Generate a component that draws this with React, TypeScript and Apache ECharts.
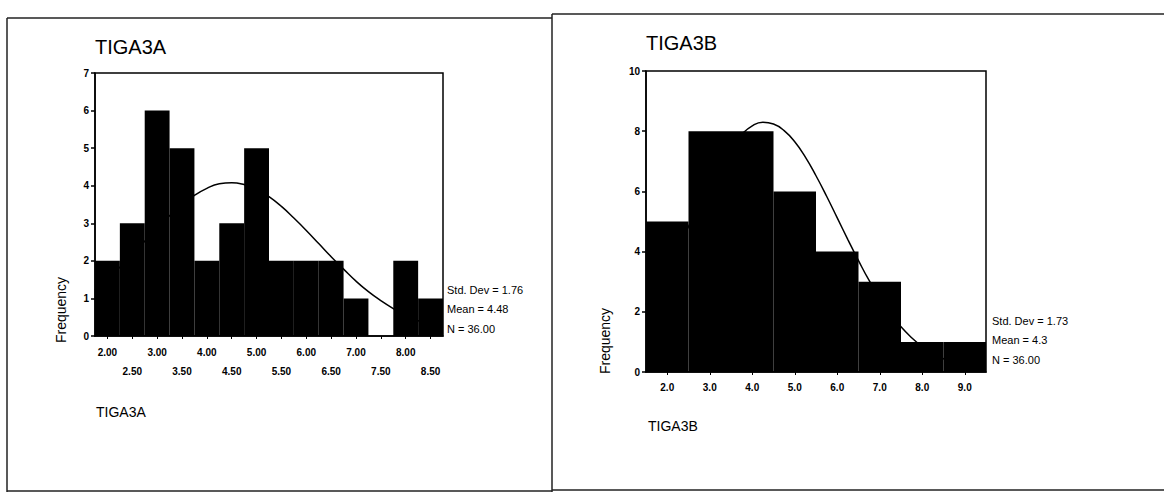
import React, { useEffect, useRef } from "react";
import * as echarts from "echarts";

// ---- TIGA3A ----
const leftCategories = ["2.00", "2.50", "3.00", "3.50", "4.00", "4.50", "5.00", "5.50", "6.00", "6.50", "7.00", "7.50", "8.00", "8.50"];
const leftCounts = [2, 3, 6, 5, 2, 3, 5, 2, 2, 2, 1, 0, 2, 1];
const leftCurveX = [1.75, 2.0, 2.25, 2.5, 2.75, 3.0, 3.25, 3.5, 3.75, 4.0, 4.25, 4.5, 4.75, 5.0, 5.25, 5.5, 5.75, 6.0, 6.25, 6.5, 6.75, 7.0, 7.25, 7.5, 7.75, 8.0, 8.25, 8.5, 8.75];
const leftCurveY = [1.23, 1.51, 1.83, 2.17, 2.52, 2.86, 3.2, 3.49, 3.74, 3.93, 4.05, 4.08, 4.03, 3.91, 3.71, 3.45, 3.14, 2.81, 2.46, 2.11, 1.78, 1.46, 1.18, 0.94, 0.73, 0.55, 0.41, 0.3, 0.22];
const leftStats = ["Std. Dev = 1.76", "Mean = 4.48", "N = 36.00"];

// ---- TIGA3B ----
const rightCategories = ["2.0", "3.0", "4.0", "5.0", "6.0", "7.0", "8.0", "9.0"];
const rightCounts = [5, 8, 8, 6, 4, 3, 1, 1];
const rightCurveX = [1.5, 1.75, 2.0, 2.25, 2.5, 2.75, 3.0, 3.25, 3.5, 3.75, 4.0, 4.25, 4.5, 4.75, 5.0, 5.25, 5.5, 5.75, 6.0, 6.25, 6.5, 6.75, 7.0, 7.25, 7.5, 7.75, 8.0, 8.25, 8.5, 8.75, 9.0, 9.25, 9.5];
const rightCurveY = [2.24, 2.8, 3.43, 4.11, 4.83, 5.56, 6.26, 6.9, 7.46, 7.89, 8.18, 8.3, 8.24, 8.02, 7.65, 7.14, 6.52, 5.84, 5.12, 4.4, 3.7, 3.04, 2.46, 1.94, 1.5, 1.14, 0.84, 0.61, 0.44, 0.3, 0.21, 0.14, 0.09];
const rightStats = ["Std. Dev = 1.73", "Mean = 4.3", "N = 36.00"];

const FONT = "'Liberation Sans', Arial, sans-serif";

export default function App() {
  const ref = useRef<HTMLDivElement>(null);

  useEffect(() => {
    if (!ref.current) return;
    const chart = echarts.init(ref.current, undefined, { renderer: "svg" });

    const frameStyle = { stroke: "#222", lineWidth: 1.5 };
    const txt = (text: string, x: number, y: number, size: number, extra: any = {}) => ({
      type: "text",
      x,
      y,
      style: { text, fontSize: size, fontFamily: FONT, fill: "#000", verticalAlign: "middle", ...extra },
    });

    const yAxisCommon = {
      type: "value",
      axisLine: { show: true, lineStyle: { color: "#000", width: 1.5 } },
      axisTick: { show: true, length: 4, lineStyle: { color: "#000", width: 1.5 } },
      splitLine: { show: false },
      axisLabel: { color: "#000", fontSize: 10, fontWeight: "bold", fontFamily: FONT, margin: 6 },
    };

    const option: any = {
      animation: false,
      backgroundColor: "#fff",
      grid: [
        { left: 95, top: 73, width: 348, height: 263, show: true, borderColor: "#000", borderWidth: 1.5, backgroundColor: "transparent" },
        { left: 646, top: 71, width: 340, height: 301, show: true, borderColor: "#000", borderWidth: 1.5, backgroundColor: "transparent" },
      ],
      xAxis: [
        {
          type: "category",
          gridIndex: 0,
          data: leftCategories,
          axisLine: { show: true, lineStyle: { color: "#000", width: 1.5 } },
          axisTick: { show: true, length: 3, alignWithLabel: true, lineStyle: { color: "#000" } },
          axisLabel: {
            interval: 0,
            color: "#000",
            fontSize: 10,
            fontWeight: "bold",
            fontFamily: FONT,
            margin: 7,
            lineHeight: 19,
            formatter: (v: string, i: number) => (i % 2 === 0 ? v : "\n" + v),
          },
        },
        { type: "value", gridIndex: 0, min: 1.75, max: 8.75, show: false },
        {
          type: "category",
          gridIndex: 1,
          data: rightCategories,
          axisLine: { show: true, lineStyle: { color: "#000", width: 1.5 } },
          axisTick: { show: true, length: 3, alignWithLabel: true, lineStyle: { color: "#000" } },
          axisLabel: { interval: 0, color: "#000", fontSize: 10, fontWeight: "bold", fontFamily: FONT, margin: 10 },
        },
        { type: "value", gridIndex: 1, min: 1.5, max: 9.5, show: false },
      ],
      yAxis: [
        { ...yAxisCommon, gridIndex: 0, min: 0, max: 7, interval: 1 },
        { ...yAxisCommon, gridIndex: 1, min: 0, max: 10, interval: 2 },
      ],
      series: [
        {
          type: "line",
          xAxisIndex: 1,
          yAxisIndex: 0,
          data: leftCurveX.map((x, i) => [x, leftCurveY[i]]),
          smooth: true,
          symbol: "none",
          lineStyle: { color: "#000", width: 1.5 },
          z: 1,
        },
        {
          type: "bar",
          xAxisIndex: 0,
          yAxisIndex: 0,
          data: leftCounts,
          barCategoryGap: "0%",
          itemStyle: { color: "#000" },
          z: 3,
        },
        {
          type: "line",
          xAxisIndex: 3,
          yAxisIndex: 1,
          data: rightCurveX.map((x, i) => [x, rightCurveY[i]]),
          smooth: true,
          symbol: "none",
          lineStyle: { color: "#000", width: 1.5 },
          z: 1,
        },
        {
          type: "bar",
          xAxisIndex: 2,
          yAxisIndex: 1,
          data: rightCounts,
          barCategoryGap: "0%",
          itemStyle: { color: "#000" },
          z: 3,
        },
      ],
      graphic: [
        // panel frames
        { type: "line", shape: { x1: 7, y1: 18, x2: 552, y2: 18 }, style: frameStyle },
        { type: "line", shape: { x1: 7, y1: 18, x2: 7, y2: 492 }, style: frameStyle },
        { type: "line", shape: { x1: 552, y1: 14, x2: 552, y2: 492 }, style: frameStyle },
        { type: "line", shape: { x1: 7, y1: 491, x2: 552, y2: 491 }, style: frameStyle },
        { type: "line", shape: { x1: 552, y1: 14, x2: 1164, y2: 14 }, style: frameStyle },
        { type: "line", shape: { x1: 552, y1: 490, x2: 1164, y2: 490 }, style: frameStyle },
        // titles
        txt("TIGA3A", 95, 47, 20),
        txt("TIGA3B", 646, 43, 20),
        // x axis names
        txt("TIGA3A", 96, 412, 14),
        txt("TIGA3B", 648, 426, 14),
        // y axis names
        { type: "text", x: 61, y: 310, rotation: Math.PI / 2, style: { text: "Frequency", fontSize: 14, fontFamily: FONT, fill: "#000", align: "center", verticalAlign: "middle" } },
        { type: "text", x: 605, y: 341, rotation: Math.PI / 2, style: { text: "Frequency", fontSize: 14, fontFamily: FONT, fill: "#000", align: "center", verticalAlign: "middle" } },
        // stats
        txt(leftStats[0], 447, 290, 11),
        txt(leftStats[1], 447, 309, 11),
        txt(leftStats[2], 447, 329, 11),
        txt(rightStats[0], 992, 321, 11),
        txt(rightStats[1], 992, 340, 11),
        txt(rightStats[2], 992, 360, 11),
      ],
    };

    chart.setOption(option);
    return () => chart.dispose();
  }, []);

  return <div ref={ref} style={{ position: "fixed", left: 0, top: 0, width: 1164, height: 493, background: "#fff" }} />;
}
